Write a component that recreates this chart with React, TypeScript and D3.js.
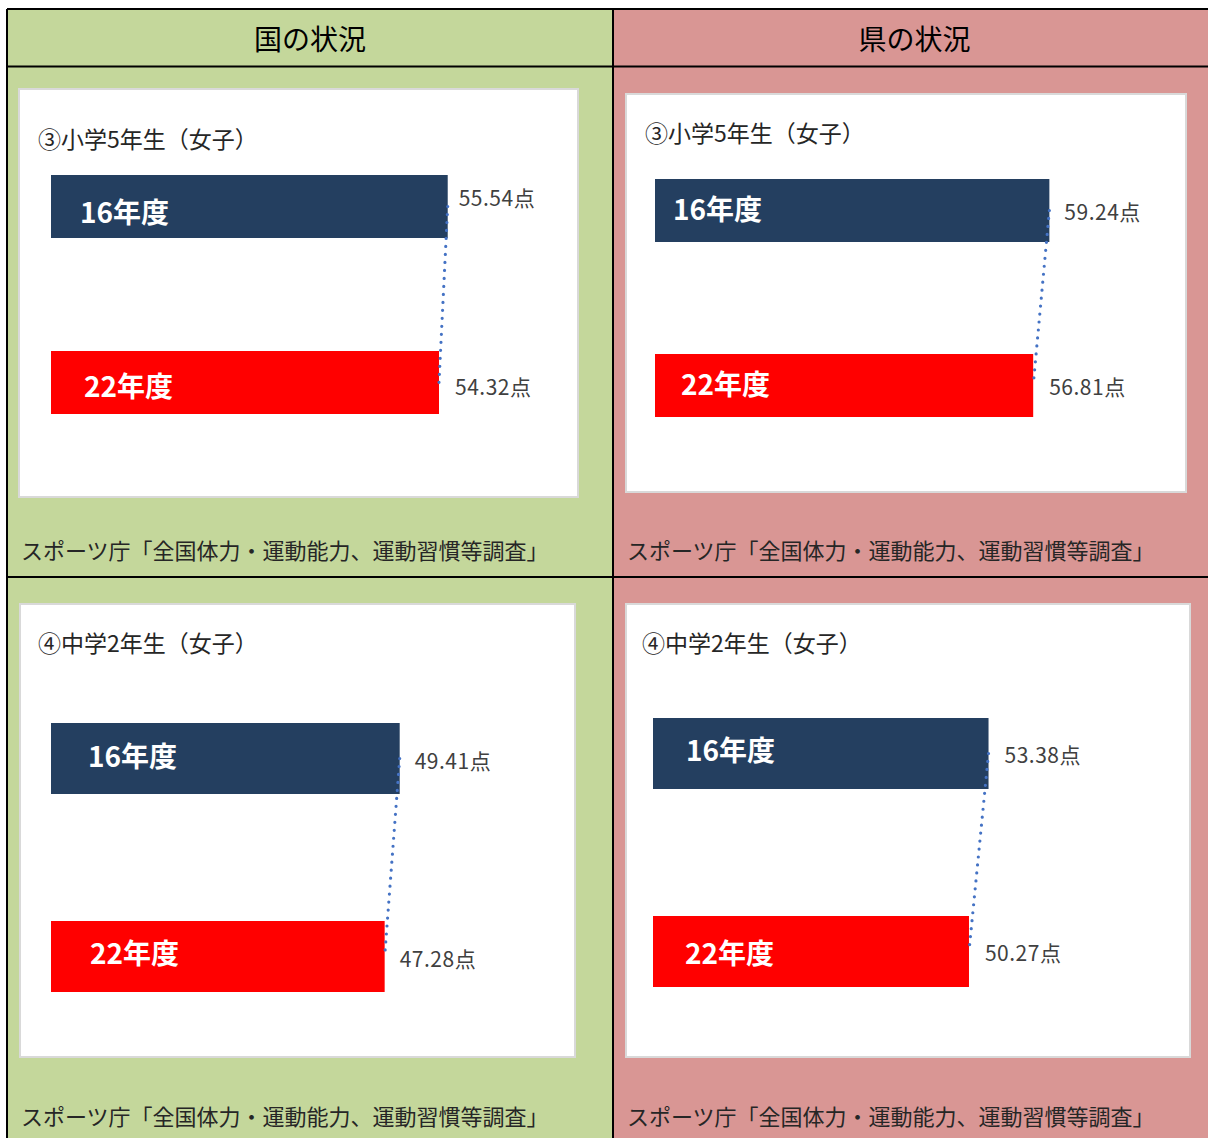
import React from 'react';
import * as d3 from 'd3';

// table headers and text
const columnHeads = ['国の状況', '県の状況'];
const gradeTitles = ['③小学5年生（女子）', '④中学2年生（女子）'];
const yearLabels = ['16年度', '22年度'];
const sourceNote = 'スポーツ庁「全国体力・運動能力、運動習慣等調査」';

// scores (点)
const nationElementary = [55.54, 54.32];
const nationJunior = [49.41, 47.28];
const prefElementary = [59.24, 56.81];
const prefJunior = [53.38, 50.27];

const barColors = ['#243f60', '#ff0000'];
const colFill = ['#c4d79b', '#d99694'];

const W = 1208;
const H = 1138;
const colEdges = [7, 613, 1216];
const rowEdges = [9, 66.5, 577, 1160];

const FONT = '"Noto Sans CJK JP", "Noto Sans", sans-serif';

// one entry per chart box: where it sits on the page
const panels = [
  {
    col: 0, grade: 0, values: nationElementary,
    box: { x: 19, y: 89, w: 559, h: 408 },
    titleX: 38, titleY: 138,
    plotX: 51, plotW: 500, barTop: 175, barH: 63, step: 176,
    nameDx: [29, 33], nameDy: [4, 2],
    valDx: [11, 16], valDy: [-9.5, 3.5],
    noteY: 549,
  },
  {
    col: 1, grade: 0, values: prefElementary,
    box: { x: 626, y: 94, w: 560, h: 398 },
    titleX: 645, titleY: 132,
    plotX: 655, plotW: 466, barTop: 179, barH: 63, step: 175,
    nameDx: [18, 26], nameDy: [-2.5, -2.5],
    valDx: [15, 16], valDy: [0.5, 0.5],
    noteY: 549,
  },
  {
    col: 0, grade: 1, values: nationJunior,
    box: { x: 20, y: 604, w: 555, h: 453 },
    titleX: 38, titleY: 642,
    plotX: 51, plotW: 494, barTop: 723, barH: 71, step: 198,
    nameDx: [37, 39], nameDy: [-3.5, -5],
    valDx: [15, 15], valDy: [1.5, 1.5],
    noteY: 1115,
  },
  {
    col: 1, grade: 1, values: prefJunior,
    box: { x: 626, y: 604, w: 564, h: 453 },
    titleX: 642, titleY: 642,
    plotX: 653, plotW: 440, barTop: 718, barH: 71, step: 198,
    nameDx: [33, 32], nameDy: [-4.5, 0],
    valDx: [16, 16], valDy: [0.5, 0.5],
    noteY: 1115,
  },
];

const Panel = ({ p }: { p: typeof panels[number] }) => {
  const x = d3.scaleLinear().domain([0, 70]).range([p.plotX, p.plotX + p.plotW]);
  const y = d3
    .scaleBand<string>()
    .domain(yearLabels)
    .range([p.barTop, p.barTop + p.step + p.barH])
    .paddingInner(1 - p.barH / p.step)
    .paddingOuter(0);

  const pts: [number, number][] = p.values.map((v, i) => [
    x(v),
    (y(yearLabels[i]) ?? 0) + y.bandwidth() / 2,
  ]);
  const connector = d3.line()(pts) ?? '';

  return (
    <g>
      <rect
        x={p.box.x}
        y={p.box.y}
        width={p.box.w}
        height={p.box.h}
        fill="#fff"
        stroke="#d9d9d9"
        strokeWidth={2}
      />
      <text
        x={p.titleX}
        y={p.titleY}
        dominantBaseline="central"
        fontSize={23}
        fill="#262626"
        fontFamily={FONT}
      >
        {gradeTitles[p.grade]}
      </text>
      {p.values.map((v, i) => {
        const yy = y(yearLabels[i]) ?? 0;
        const cy = yy + y.bandwidth() / 2;
        return (
          <g key={i}>
            <rect
              x={x(0)}
              y={yy}
              width={x(v) - x(0)}
              height={y.bandwidth()}
              fill={barColors[i]}
            />
            <text
              x={x(0) + p.nameDx[i]}
              y={cy + p.nameDy[i]}
              dominantBaseline="central"
              fontSize={28}
              fontWeight={700}
              fill="#fff"
              fontFamily={FONT}
            >
              {yearLabels[i]}
            </text>
          </g>
        );
      })}
      <path
        d={connector}
        fill="none"
        stroke="#4472c4"
        strokeWidth={3.2}
        strokeLinecap="round"
        strokeDasharray="0 8"
      />
      {p.values.map((v, i) => {
        const cy = (y(yearLabels[i]) ?? 0) + y.bandwidth() / 2;
        return (
          <text
            key={'v' + i}
            x={x(v) + p.valDx[i]}
            y={cy + p.valDy[i]}
            dominantBaseline="central"
            fontSize={21}
            letterSpacing={0.5}
            fill="#404040"
            fontFamily={FONT}
          >
            {v.toFixed(2)}点
          </text>
        );
      })}
      <text
        x={colEdges[p.col] + 14}
        y={p.noteY}
        dominantBaseline="central"
        fontSize={22}
        fill="#262626"
        fontFamily={FONT}
      >
        {sourceNote}
      </text>
    </g>
  );
};

const App = () => {
  return (
    <svg
      width={W}
      height={H}
      style={{ position: 'absolute', left: 0, top: 0, background: '#fff' }}
    >
      {columnHeads.map((_, c) => (
        <rect
          key={c}
          x={colEdges[c]}
          y={rowEdges[0]}
          width={colEdges[c + 1] - colEdges[c]}
          height={rowEdges[3] - rowEdges[0]}
          fill={colFill[c]}
        />
      ))}
      {columnHeads.map((h, c) => (
        <text
          key={h}
          x={(colEdges[c] + colEdges[c + 1]) / 2}
          y={38}
          textAnchor="middle"
          dominantBaseline="central"
          fontSize={28}
          fontWeight={400}
          fill="#000"
          fontFamily={FONT}
        >
          {h}
        </text>
      ))}
      {panels.map((p, i) => (
        <Panel key={i} p={p} />
      ))}
      {/* table rules */}
      {rowEdges.slice(0, 3).map((ry, i) => (
        <line key={'r' + i} x1={colEdges[0]} x2={colEdges[2]} y1={ry} y2={ry} stroke="#000" strokeWidth={2} />
      ))}
      {colEdges.map((cx, i) => (
        <line key={'c' + i} x1={cx} x2={cx} y1={rowEdges[0]} y2={rowEdges[3]} stroke="#000" strokeWidth={2} />
      ))}
    </svg>
  );
};

export default App;
